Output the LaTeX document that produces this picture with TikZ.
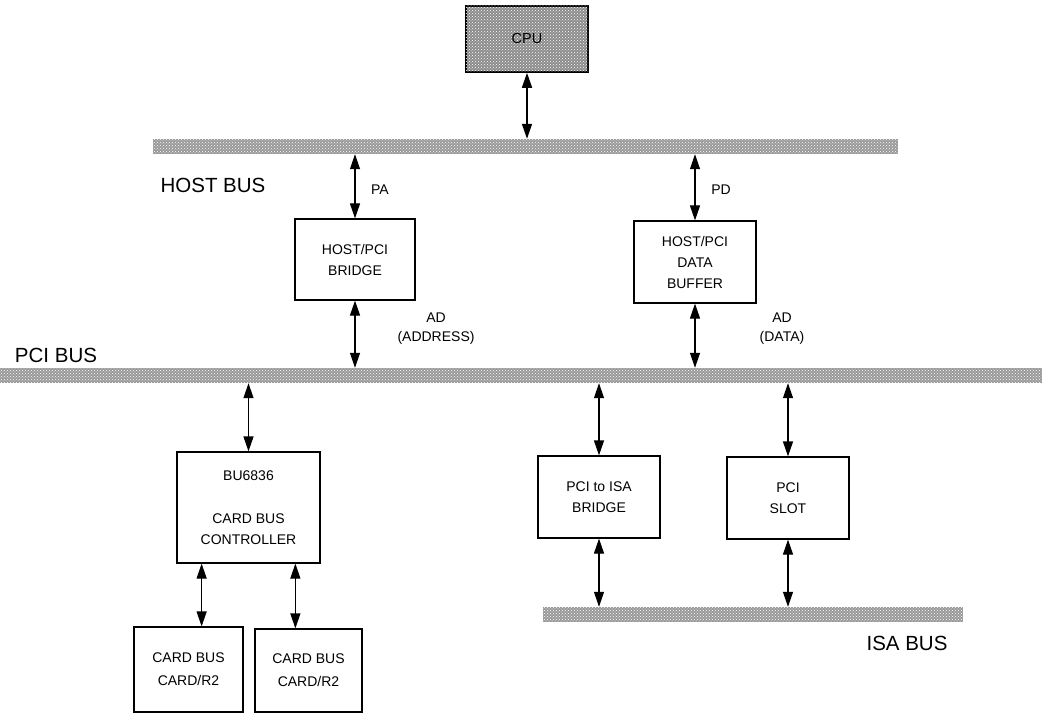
\documentclass[tikz,border=0pt]{standalone}
\usepackage{fontspec}
\setmainfont{Liberation Sans}
\usetikzlibrary{arrows.meta,calc,patterns}
\begin{document}
\begin{tikzpicture}[x=1pt,y=-1pt,
  box/.style={draw, line width=1.2pt, fill=white, inner sep=0pt, align=center,
    font=\fontsize{14}{21}\selectfont},
  bus/.style={fill=black!40, draw=none, inner sep=0pt,
    postaction={pattern=crosshatch dots, pattern color=white}},
  link/.style={{Triangle[length=15pt,width=10pt]}-{Triangle[length=15pt,width=10pt]}, line width=1.2pt},
  lbl/.style={font=\fontsize{14}{19}\selectfont, align=center, inner sep=0pt},
  big/.style={font=\fontsize{20.5}{24}\selectfont, inner sep=0pt},
]
\useasboundingbox (0,0) rectangle (1042,714);
% buses
\node[bus, minimum width=745pt, minimum height=15pt] (hostbus) at (525.5,146.5) {};
\node[bus, minimum width=1042pt, minimum height=15pt] (pcibus) at (521,375.5) {};
\node[bus, minimum width=420pt, minimum height=15pt] (isabus) at (753,614.5) {};
% boxes
\node[box, line width=1.6pt, fill=black!45, postaction={pattern=crosshatch dots, pattern color=white},
  minimum width=122pt, minimum height=66pt, font=\fontsize{14.5}{17}\selectfont] (cpu) at (527,39) {CPU};
\node[box, minimum width=120pt, minimum height=81pt] (bridge) at (355,259.5) {HOST/PCI\\BRIDGE};
\node[box, minimum width=122pt, minimum height=82pt] (buf) at (695,262) {HOST/PCI\\DATA\\BUFFER};
\node[box, minimum width=143pt, minimum height=111pt] (bu) at (248.5,507.5) {BU6836\\[22pt]CARD BUS\\CONTROLLER};
\node[box, minimum width=109pt, minimum height=85pt, font=\fontsize{14}{23}\selectfont] (card1) at (188.5,669.5) {CARD BUS\\CARD/R2};
\node[box, minimum width=107pt, minimum height=83pt, font=\fontsize{14}{23}\selectfont] (card2) at (308.5,670.5) {CARD BUS\\CARD/R2};
\node[box, minimum width=122pt, minimum height=82pt] (isab) at (599,497) {PCI to ISA\\BRIDGE};
\node[box, minimum width=122pt, minimum height=82pt] (slot) at (788,498) {PCI\\SLOT};
% labels
\node[big] (lhost) at (213,185) {HOST BUS};
\node[big] (lpci) at (56,355) {PCI BUS};
\node[big] (lisa) at (907,643) {ISA BUS};
\node[lbl] (lpa) at (380,190) {PA};
\node[lbl] (lpd) at (721,190) {PD};
\node[lbl] (lada) at (436,329) {AD\\(ADDRESS)};
\node[lbl] (ladd) at (782,329) {AD\\(DATA)};
% connectors
\draw[link, line width=1.6pt] (cpu.south) -- (cpu.south |- hostbus.north);
\draw[link] (bridge.north |- hostbus.south) -- (bridge.north);
\draw[link] (buf.north |- hostbus.south) -- (buf.north);
\draw[link] (bridge.south) -- (bridge.south |- pcibus.north);
\draw[link] (buf.south) -- (buf.south |- pcibus.north);
\draw[link] (bu.north |- pcibus.south) -- (bu.north);
\draw[link] (isab.north |- pcibus.south) -- (isab.north);
\draw[link] (slot.north |- pcibus.south) -- (slot.north);
\draw[link] (isab.south) -- (isab.south |- isabus.north);
\draw[link] (slot.south) -- (slot.south |- isabus.north);
\coordinate (bua) at ($(bu.south west)!0.175!(bu.south east)$);
\coordinate (bub) at ($(bu.south west)!0.825!(bu.south east)$);
\draw[link] (bua) -- (bua |- card1.north);
\draw[link] (bub) -- (bub |- card2.north);
\end{tikzpicture}
\end{document}
